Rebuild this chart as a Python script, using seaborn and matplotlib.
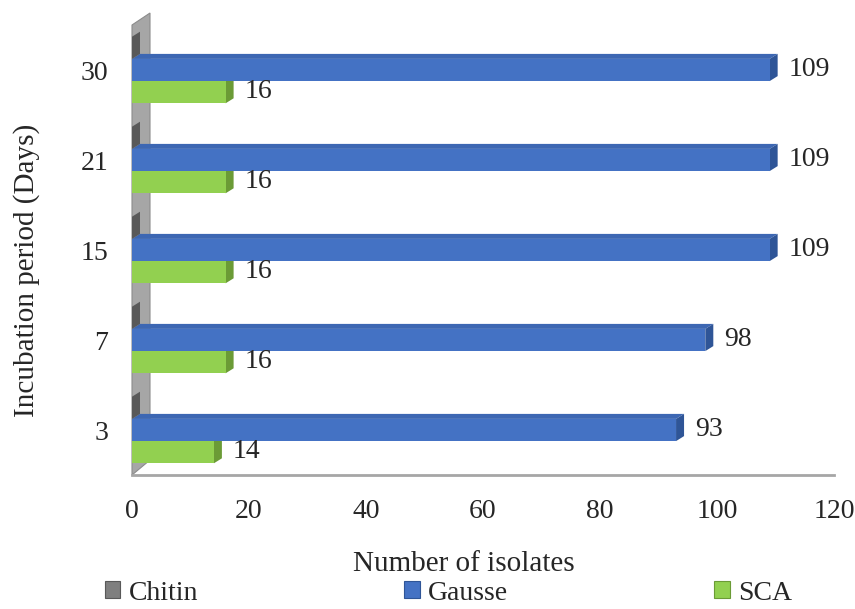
import numpy as np
import pandas as pd
import matplotlib
matplotlib.use("Agg")
import matplotlib.pyplot as plt
from matplotlib.patches import Polygon, Patch
from matplotlib.colors import to_hex
import seaborn as sns

# Incubation periods (days), listed top to bottom
days = ["30", "21", "15", "7", "3"]
media = ["Chitin", "Gausse", "SCA"]

# Number of isolates recovered on each medium
chitin = [0, 0, 0, 0, 0]
gausse = [109, 109, 109, 98, 93]
sca = [16, 16, 16, 16, 14]

x_ticks = [0, 20, 40, 60, 80, 100, 120]

front = {"Chitin": "#7f7f7f", "Gausse": "#4472c4", "SCA": "#92d050"}
side = {"Chitin": "#595959", "Gausse": "#2f5597", "SCA": "#6b9b36"}
top = {"Chitin": "#6b6b6b", "Gausse": "#3d67b3", "SCA": "#84bf47"}

df = pd.DataFrame({
    "Day": days * 3,
    "Medium": np.repeat(media, len(days)),
    "Count": chitin + gausse + sca,
})

sns.set_style("white")
plt.rcParams["font.family"] = ["Liberation Serif", "DejaVu Serif"]

W, H = 855, 609
fig = plt.figure(figsize=(W / 100, H / 100), dpi=100)
ax = fig.add_axes([132 / W, 1 - 475 / H, 702 / W, 450 / H])

sns.barplot(data=df, y="Day", x="Count", hue="Medium", order=days,
            hue_order=media, palette=front, orient="h", width=0.74,
            saturation=1, legend=False, ax=ax, zorder=2,
            edgecolor="none", linewidth=0)

ax.set_xlim(0, 120)
ax.set_ylim(len(days) - 0.5, -0.5)
ax.set_xticks(x_ticks)
ax.set_xticklabels([str(t) for t in x_ticks], fontsize=20)
ax.set_yticks(range(len(days)))
ax.set_yticklabels(days, fontsize=20)
ax.set_yticks(np.arange(-0.5, len(days), 1.0), minor=True)
ax.tick_params(axis="y", which="major", length=0, pad=17)
ax.tick_params(axis="y", which="minor", length=5, width=1.2, color="#8c8c8c",
               direction="out")
ax.tick_params(axis="x", which="major", length=5, width=1.2, color="#8c8c8c",
               direction="out", pad=12)
ax.set_xlabel("")
ax.set_ylabel("")
for s in ("top", "right", "left"):
    ax.spines[s].set_visible(False)
ax.spines["bottom"].set_color("#a6a6a6")
ax.spines["bottom"].set_linewidth(2)
ax.grid(False)

inv = ax.transData.inverted()


def add_display_poly(pts, fc, z, ec="none", clip=True):
    data_pts = inv.transform(np.asarray(pts, dtype=float))
    ax.add_patch(Polygon(data_pts, closed=True, fc=fc, ec=ec, lw=0.8,
                         zorder=z, clip_on=clip))


# Grey back wall behind the category axis
x0d, y0d = ax.transAxes.transform((0, 0))
_, y1d = ax.transAxes.transform((0, 1))
add_display_poly([(x0d, y0d), (x0d, y1d), (x0d + 18, y1d + 12),
                  (x0d + 18, y0d + 15)], "#a6a6a6", 0.5, ec="#8c8c8c",
                 clip=False)

# Depth faces (top and end) for every bar, drawn from the plotted patches
dx, dy = 8, 5
color_to_medium = {to_hex(c): m for m, c in front.items()}
for p in list(ax.patches):
    if isinstance(p, Polygon):
        continue
    medium = color_to_medium.get(to_hex(p.get_facecolor()))
    if medium is None:
        continue
    w = p.get_width()
    (xl, ya), (xr, yb) = ax.transData.transform(
        [(p.get_x(), p.get_y()), (p.get_x() + w, p.get_y() + p.get_height())])
    yt, ybot = max(ya, yb), min(ya, yb)
    if w > 0:
        add_display_poly([(xl, yt), (xr, yt), (xr + dx, yt + dy),
                          (xl + dx, yt + dy)], top[medium], 1.5)
    add_display_poly([(xr, ybot), (xr, yt), (xr + dx, yt + dy),
                      (xr + dx, ybot + dy)], side[medium], 1.6)
    if w > 0:
        yc = p.get_y() + p.get_height() / 2
        ax.annotate(f"{w:g}", xy=(w, yc), xytext=(19, 1),
                    textcoords="offset pixels", ha="left", va="center",
                    fontsize=20, annotation_clip=False)

fig.text(464 / W, 1 - 564 / H, "Number of isolates", fontsize=21,
         ha="center", va="center")
fig.text(27 / W, 1 - 270 / H, "Incubation period (Days)", fontsize=21,
         ha="center", va="center", rotation=90)

handles = [Patch(facecolor=front[m], edgecolor=side[m], lw=0.8, label=m)
           for m in media]
fig.legend(handles=handles, loc="center", ncol=3, mode="expand",
           bbox_to_anchor=(105 / W, 1 - 593 / H, (792 - 105) / W, 0),
           frameon=False, fontsize=20, handlelength=0.55, handleheight=0.55,
           handletextpad=0.3, borderpad=0, borderaxespad=0)

fig.savefig("out.png", dpi=100)
